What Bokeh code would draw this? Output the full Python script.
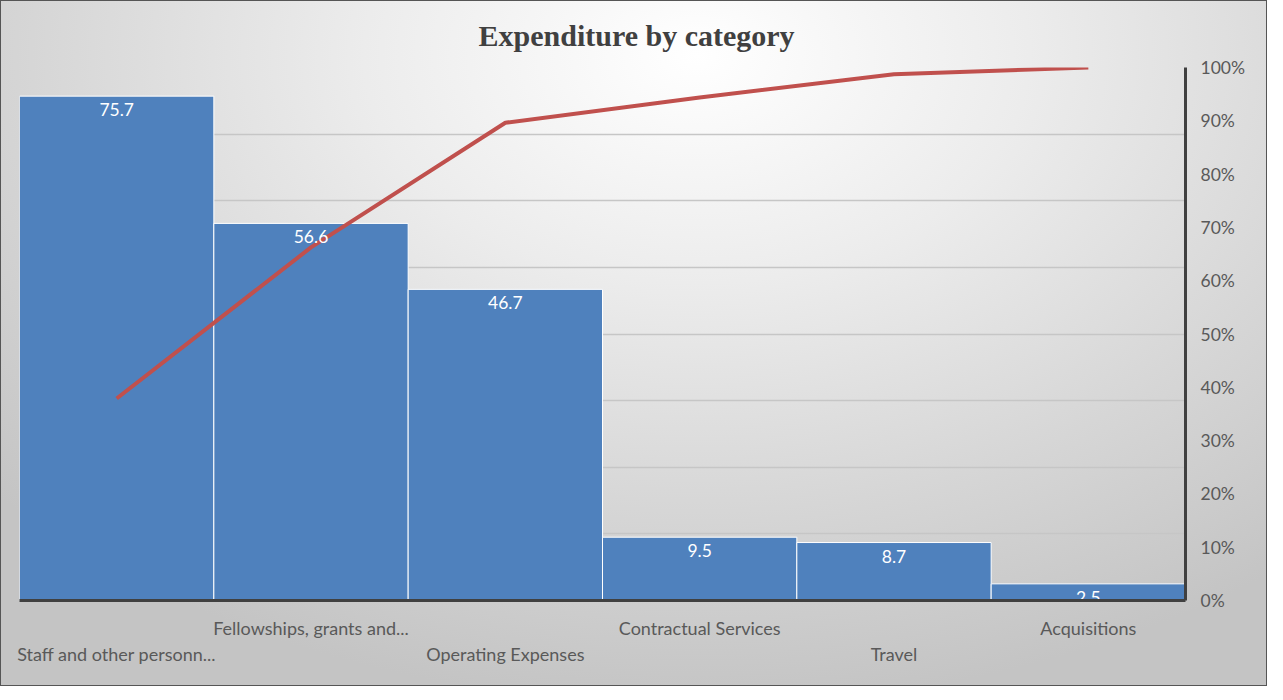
from bokeh.plotting import figure
from bokeh.models import (FactorRange, Range1d, LinearAxis, CategoricalAxis, FixedTicker,
                          NumeralTickFormatter, ColumnDataSource, CustomJSTickFormatter)
from bokeh.core.properties import value
from bokeh.embed import file_html
from bokeh.resources import INLINE

# ---- data ----
categories = ["Staff and other personn...", "Fellowships, grants and...", "Operating Expenses",
              "Contractual Services", "Travel", "Acquisitions"]
expenditure = [75.7, 56.6, 46.7, 9.5, 8.7, 2.5]
value_ticks = [0, 10, 20, 30, 40, 50, 60, 70, 80]
pct_ticks = [0, 0.1, 0.2, 0.3, 0.4, 0.5, 0.6, 0.7, 0.8, 0.9, 1.0]
upper_row = ["Fellowships, grants and...", "Contractual Services", "Acquisitions"]
lower_row = ["Staff and other personn...", "Operating Expenses", "Travel"]

total = sum(expenditure)
cumulative = []
run = 0.0
for v in expenditure:
    run += v
    cumulative.append(run / total)

src = ColumnDataSource(dict(cat=categories, val=expenditure, cum=cumulative,
                            lbl=[f"{v:.1f}" for v in expenditure]))

LABEL_FONT = "Lato"
GREY_TXT = "#595959"

p = figure(x_range=FactorRange(*categories), y_range=Range1d(0, 80),
           width=1267, height=686, output_backend="svg", toolbar_location=None,
           min_border_left=19, min_border_right=82, min_border_top=66, min_border_bottom=86,
           background_fill_color=None, border_fill_color=None, outline_line_color=None)
p.styles = {
    "background": "radial-gradient(ellipse 75% 95% at 55% 8%, #ffffff 0%, #ececec 35%, #d6d6d6 70%, #c4c4c4 100%)",
    "outline": "1px solid #555555",
    "outline-offset": "-1px",
}

p.extra_y_ranges = {"pct": Range1d(0, 1)}

# title
p.title.text = "Expenditure by category"
p.title.align = "left"
p.title.offset = 459
p.title.standoff = 32
p.title.text_font = "Liberation Serif"
p.title.text_font_style = "bold"
p.title.text_font_size = "30px"
p.title.text_color = "#404040"

# bars
p.vbar(x="cat", top="val", width=1.0, source=src, fill_color="#4F81BD",
       line_color="white", line_width=1)

# cumulative line
p.line(x="cat", y="cum", source=src, y_range_name="pct", line_color="#C0504D",
       line_width=4)

# data labels
p.text(x="cat", y="val", text="lbl", source=src, text_color="white",
       text_font=value(LABEL_FONT), text_font_size="17.5px", text_align="center",
       text_baseline="top", y_offset=7)

# left axis hidden, used for grid
p.yaxis.ticker = FixedTicker(ticks=value_ticks)
p.yaxis.visible = False
p.ygrid.ticker = FixedTicker(ticks=value_ticks)
p.ygrid.grid_line_color = "#c6c6c6"
p.ygrid.grid_line_width = 1.5
p.xgrid.grid_line_color = None

# right percent axis
ra = LinearAxis(y_range_name="pct", ticker=FixedTicker(ticks=pct_ticks),
                formatter=NumeralTickFormatter(format="0%"))
ra.axis_line_color = "#404040"
ra.axis_line_width = 3
ra.major_tick_line_color = None
ra.minor_tick_line_color = None
ra.major_tick_out = 0
ra.major_tick_in = 0
ra.major_label_standoff = 15
ra.major_label_text_font = LABEL_FONT
ra.major_label_text_font_size = "17.5px"
ra.major_label_text_color = GREY_TXT
p.add_layout(ra, "right")

# bottom axes (staggered labels)
show_js = "return keep.includes(tick) ? tick : '';"

xa = p.xaxis[0]
xa.formatter = CustomJSTickFormatter(args=dict(keep=upper_row), code=show_js)
xa.axis_line_color = "#404040"
xa.axis_line_width = 3
xa.major_tick_line_color = None
xa.major_tick_out = 0
xa.major_tick_in = 0
xa.major_label_standoff = 16
xa.major_label_text_font = LABEL_FONT
xa.major_label_text_font_size = "18px"
xa.major_label_text_color = GREY_TXT

xb = CategoricalAxis(formatter=CustomJSTickFormatter(args=dict(keep=lower_row), code=show_js))
xb.axis_line_color = None
xb.major_tick_line_color = None
xb.major_tick_out = 0
xb.major_tick_in = 0
xb.major_label_standoff = 1
xb.major_label_text_font = LABEL_FONT
xb.major_label_text_font_size = "18px"
xb.major_label_text_color = GREY_TXT
p.add_layout(xb, "below")

open("out.html", "w").write(file_html(p, INLINE))
